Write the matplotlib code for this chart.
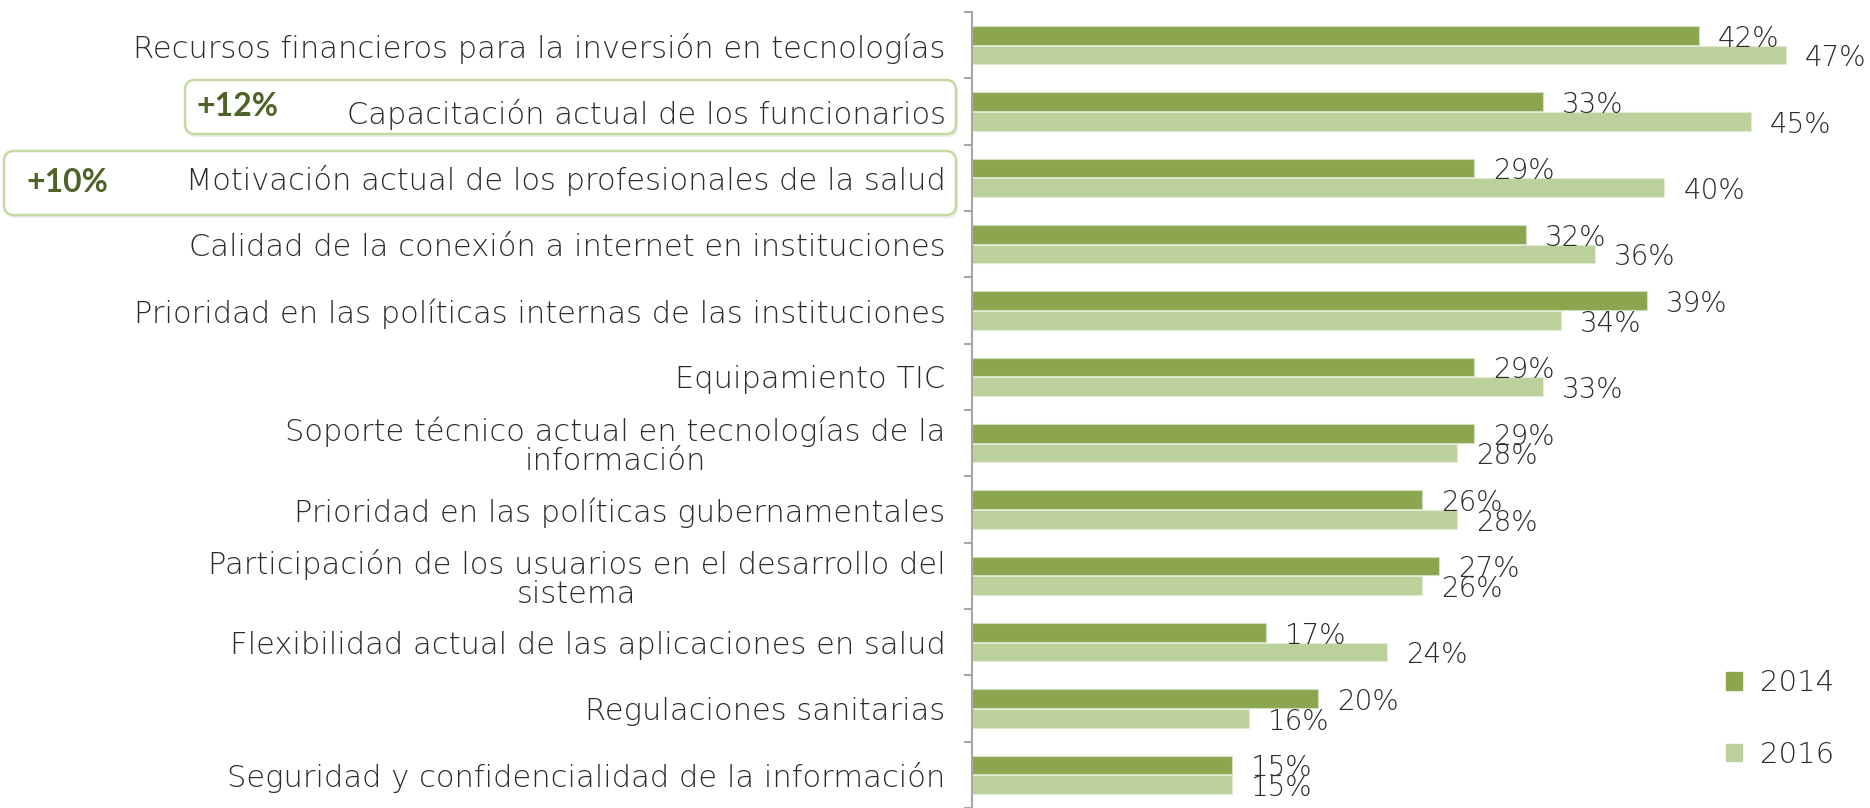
import numpy as np
import matplotlib
matplotlib.use('Agg')
import matplotlib.pyplot as plt
from matplotlib.patches import FancyBboxPatch, Patch
from matplotlib.transforms import IdentityTransform

categorias = [
    'Recursos financieros para la inversión en tecnologías',
    'Capacitación actual de los funcionarios',
    'Motivación actual de los profesionales de la salud',
    'Calidad de la conexión a internet en instituciones',
    'Prioridad en las políticas internas de las instituciones',
    'Equipamiento TIC',
    'Soporte técnico actual en tecnologías de la\ninformación',
    'Prioridad en las políticas gubernamentales',
    'Participación de los usuarios en el desarrollo del\nsistema',
    'Flexibilidad actual de las aplicaciones en salud',
    'Regulaciones sanitarias',
    'Seguridad y confidencialidad de la información',
]
v2014 = [42, 33, 29, 32, 39, 29, 29, 26, 27, 17, 20, 15]
v2016 = [47, 45, 40, 36, 34, 33, 28, 28, 26, 24, 16, 15]
series = ['2014', '2016']
destacados = {1: '+12%', 2: '+10%'}

c2014 = '#8ba64f'
c2016 = '#bbd09a'
FONT = 'DejaVu Sans'
TXT = '#2b2b2b'
W, H = 1870, 808

fig = plt.figure(figsize=(18.7, 8.08), dpi=100)
ax = fig.add_axes([972 / W, 0, 1 - 972 / W, 1 - 12 / H])
ax.set_facecolor('none')

y = np.arange(len(categorias))
h = 0.28
ax.barh(y - 0.15, v2014, height=h, color=c2014, edgecolor='#d3e0bd', linewidth=0.8)
ax.barh(y + 0.15, v2016, height=h, color=c2016, edgecolor='#e2ebd3', linewidth=0.8)

ax.set_xlim(0, (W - 972) / 17.31)
ax.set_ylim(11.5, -0.5)

for yy, v in zip(y, v2014):
    ax.text(v + 1.1, yy - 0.1, f'{v}%', va='center', ha='left', fontsize=20,
            family=FONT, fontweight='light', color=TXT)
for yy, v in zip(y, v2016):
    ax.text(v + 1.1, yy + 0.2, f'{v}%', va='center', ha='left', fontsize=20,
            family=FONT, fontweight='light', color=TXT)

for s in ['top', 'right', 'bottom']:
    ax.spines[s].set_visible(False)
ax.spines['left'].set_color('#a6a6a6')
ax.spines['left'].set_linewidth(1.5)
ax.set_xticks([])
ax.set_yticks(y)
ax.set_yticklabels(categorias, fontsize=22, family=FONT, fontweight='light',
                   color=TXT, multialignment='center', linespacing=1.0)
ax.tick_params(axis='y', which='major', length=0, pad=19)
ax.set_yticks(np.arange(-0.5, 12, 1), minor=True)
ax.tick_params(axis='y', which='minor', length=6, width=1.5, color='#a6a6a6')

# highlighted boxes (pixel coords, origin bottom-left)
boxes = {1: (185, 80, 956, 134, 12), 2: (4, 151, 956, 215, 22)}
for i, txt in destacados.items():
    x0, t, x1, b, dx = boxes[i]
    sh = FancyBboxPatch((x0 + 2, H - b - 3), x1 - x0, b - t, boxstyle='round,pad=0,rounding_size=10',
                        transform=IdentityTransform(), facecolor='#000000', alpha=0.08,
                        edgecolor='none', zorder=-2)
    bx = FancyBboxPatch((x0, H - b), x1 - x0, b - t, boxstyle='round,pad=0,rounding_size=10',
                        transform=IdentityTransform(), facecolor='white',
                        edgecolor='#c5d9a5', linewidth=1.8, zorder=-1)
    fig.patches.extend([sh, bx])
    fig.text((x0 + dx) / W, 1 - (t + b) / 2 / H, txt, fontsize=23, fontweight='bold',
             family='Lato', color='#4f6228', va='center', ha='left')

leg = ax.legend([Patch(color=c2014), Patch(color=c2016)], series, loc='upper left',
                bbox_to_anchor=(1700 / W, 1 - 643 / H), bbox_transform=fig.transFigure,
                frameon=False, handlelength=0.55, handleheight=0.55, handletextpad=0.6,
                labelspacing=1.5, prop={'family': FONT, 'weight': 'light', 'size': 21})
for t in leg.get_texts():
    t.set_color(TXT)

fig.savefig('out.png', dpi=100)
